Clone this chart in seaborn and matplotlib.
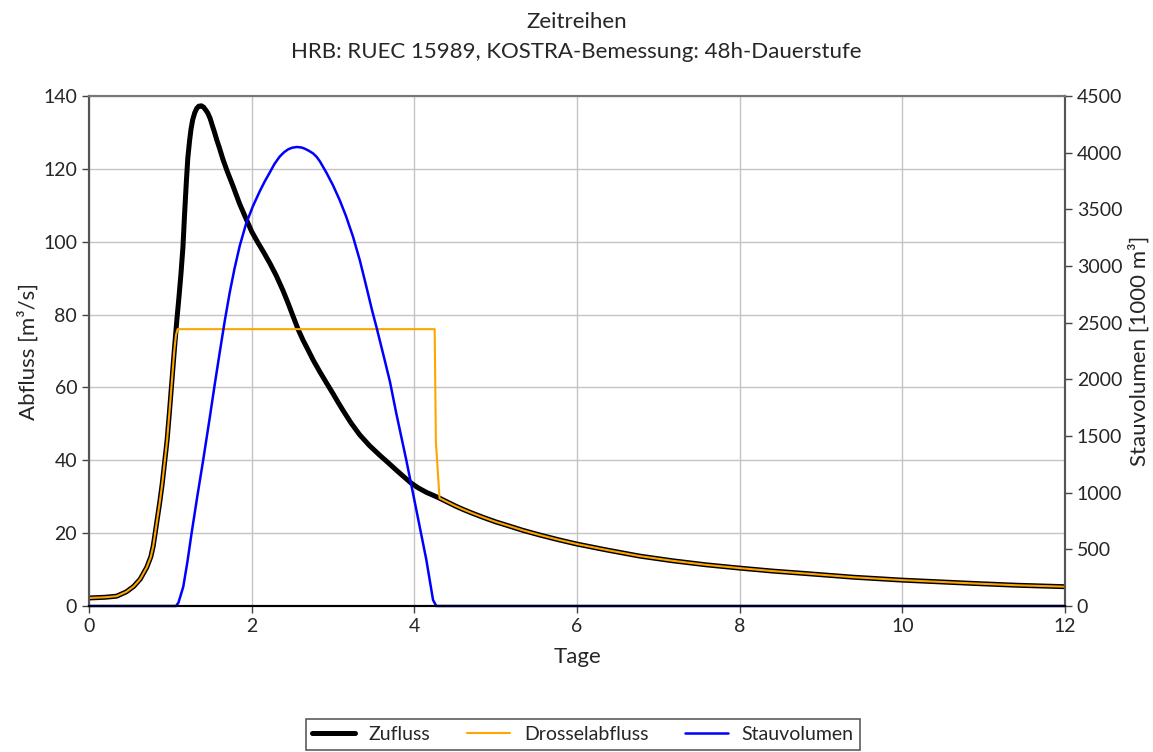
import numpy as np
import pandas as pd
import matplotlib
matplotlib.use("Agg")
import matplotlib.pyplot as plt
import seaborn as sns
from matplotlib.lines import Line2D

# ---------------- data ----------------
zufluss_t = [0.00, 0.20, 0.34, 0.46, 0.55, 0.63, 0.71, 0.76, 0.79, 0.83, 0.87, 0.90,
             0.93, 0.96, 0.99, 1.02, 1.05, 1.08, 1.105, 1.13, 1.155, 1.175, 1.197,
             1.215, 1.238, 1.255, 1.275, 1.30, 1.325, 1.35, 1.382, 1.41, 1.44,
             1.463, 1.49, 1.515, 1.545, 1.57, 1.60, 1.647, 1.70, 1.77,
             1.85, 1.935, 2.00, 2.078, 2.15, 2.221, 2.30, 2.385, 2.45, 2.508, 2.57,
             2.631, 2.70, 2.754, 2.83, 2.918, 3.00, 3.06, 3.123, 3.22, 3.328, 3.45,
             3.574, 3.68, 3.778, 3.87, 3.963, 4.05, 4.148, 4.23, 4.31, 4.40, 4.50,
             4.60, 4.721, 4.85, 5.00, 5.131, 5.33, 5.54, 5.77, 6.00, 6.36, 6.77,
             7.18, 7.59, 8.00, 8.40, 8.82, 9.40, 10.00, 10.87, 11.40, 12.00]
zufluss_q = [2.2, 2.4, 2.7, 3.9, 5.4, 7.4, 10.6, 13.5, 16.5, 22.5, 28.5, 33.5,
             39.5, 45.5, 53.5, 62.0, 70.5, 78.5, 84.5, 91.0, 98.5, 107.5, 116.5,
             123.0, 128.0, 131.0, 133.5, 135.4, 136.6, 137.2, 137.3, 136.9, 136.0,
             135.2, 133.8, 132.0, 129.9, 128.0, 126.0, 122.6, 119.3, 115.3,
             110.5, 106.1, 102.8, 99.7, 97.0, 94.2, 90.8, 86.6, 83.0, 79.6, 76.0,
             73.0, 70.0, 67.6, 64.6, 61.3, 58.3, 56.0, 53.7, 50.3, 47.0, 44.0,
             41.4, 39.3, 37.3, 35.5, 33.7, 32.4, 31.2, 30.4, 29.6, 28.6, 27.5,
             26.5, 25.4, 24.3, 23.1, 22.2, 20.8, 19.5, 18.2, 17.0, 15.4, 13.7,
             12.4, 11.3, 10.4, 9.6, 8.9, 7.9, 7.1, 6.2, 5.7, 5.3]

drossel_t = [0.00, 0.20, 0.34, 0.46, 0.55, 0.63, 0.71, 0.76, 0.79, 0.83, 0.87, 0.90,
             0.93, 0.96, 0.99, 1.02, 1.05, 1.07, 1.09, 4.25, 4.265, 4.31, 4.40,
             4.50, 4.60, 4.721, 4.85, 5.00, 5.131, 5.33, 5.54, 5.77, 6.00, 6.36,
             6.77, 7.18, 7.59, 8.00, 8.40, 8.82, 9.40, 10.00, 10.87, 11.40, 12.00]
drossel_q = [2.2, 2.4, 2.7, 3.9, 5.4, 7.4, 10.6, 13.5, 16.5, 22.5, 28.5, 33.5,
             39.5, 45.5, 53.5, 62.0, 70.5, 74.5, 76.0, 76.0, 45.0, 29.6, 28.6,
             27.5, 26.5, 25.4, 24.3, 23.1, 22.2, 20.8, 19.5, 18.2, 17.0, 15.4,
             13.7, 12.4, 11.3, 10.4, 9.6, 8.9, 7.9, 7.1, 6.2, 5.7, 5.3]

stau_t = [0.00, 1.07, 1.10, 1.159, 1.21, 1.261, 1.33, 1.404, 1.48, 1.548, 1.61,
          1.671, 1.73, 1.79, 1.853, 1.93, 2.016, 2.10, 2.16, 2.221, 2.28, 2.344,
          2.40, 2.45, 2.50, 2.557, 2.61, 2.65, 2.70, 2.754, 2.80, 2.84, 2.918,
          3.00, 3.082, 3.16, 3.246, 3.33, 3.41, 3.48, 3.533, 3.635, 3.70, 3.778,
          3.901, 4.025, 4.148, 4.23, 4.27, 12.00]
stau_v = [0, 0, 30, 170, 390, 641, 960, 1288, 1640, 1965, 2250,
          2524, 2765, 2980, 3177, 3370, 3529, 3660, 3745, 3823, 3900, 3965,
          4005, 4030, 4044, 4050, 4046, 4036, 4018, 3994, 3962, 3922, 3825,
          3712, 3582, 3440, 3259, 3050, 2818, 2610, 2465, 2171, 1980, 1700,
          1288, 847, 406, 53, 0, 0]

x_ticks = [0, 2, 4, 6, 8, 10, 12]
yl_ticks = [0, 20, 40, 60, 80, 100, 120, 140]
yr_ticks = [0, 500, 1000, 1500, 2000, 2500, 3000, 3500, 4000, 4500]

title_lines = ["Zeitreihen", "HRB: RUEC 15989, KOSTRA-Bemessung: 48h-Dauerstufe"]
labels = ["Zufluss", "Drosselabfluss", "Stauvolumen"]

# ---------------- style ----------------
sns.set_theme(style="white")
plt.rcParams["font.family"] = ["Lato", "DejaVu Sans"]
plt.rcParams["mathtext.default"] = "regular"
FS = 14
LFS = 16

df_z = pd.DataFrame({"t": zufluss_t, "q": zufluss_q})
df_d = pd.DataFrame({"t": drossel_t, "q": drossel_q})
df_s = pd.DataFrame({"t": stau_t, "v": stau_v})

fig = plt.figure(figsize=(11.53, 7.52), dpi=100)
ax = fig.add_axes([89 / 1153, 1 - 606 / 752, (1065 - 89) / 1153, (606 - 96) / 752])

sns.lineplot(data=df_z, x="t", y="q", ax=ax, color="black", linewidth=3.6,
             sort=False, solid_capstyle="round", solid_joinstyle="round")
sns.lineplot(data=df_d, x="t", y="q", ax=ax, color="#FFA500", linewidth=1.5,
             sort=False)

ax.set_xlim(0, 12)
ax.set_ylim(0, 140)
ax.set_xticks(x_ticks)
ax.set_yticks(yl_ticks)
ax.grid(True, color="#c4c4c4", linewidth=1.0)
ax.set_axisbelow(True)
ax.set_xlabel("Tage", fontsize=LFS, labelpad=9)
ax.set_ylabel("Abfluss [m³/s]", fontsize=LFS, labelpad=3)
ax.tick_params(axis="both", labelsize=FS, length=5, width=1, color="#444444",
               direction="out", left=True, bottom=True)

ax2 = ax.twinx()
sns.lineplot(data=df_s, x="t", y="v", ax=ax2, color="#0000FF", linewidth=1.8,
             sort=False, clip_on=False)
ax2.set_ylim(0, 4500)
ax2.set_yticks(yr_ticks)
ax2.grid(False)
ax2.set_ylabel("Stauvolumen [1000 m³]", fontsize=LFS, labelpad=4)
ax2.tick_params(axis="y", labelsize=FS, length=5, width=1, color="#444444",
                direction="out", right=True)

for a in (ax, ax2):
    for side in ("left", "right"):
        a.spines[side].set_color("#555555")
        a.spines[side].set_linewidth(1.5)
    a.spines["top"].set_color("#777777")
    a.spines["top"].set_linewidth(1.5)
    a.spines["bottom"].set_color("black")
    a.spines["bottom"].set_linewidth(1.5)

fig.text(0.5, 1 - 22 / 752, title_lines[0], ha="center", va="center", fontsize=16)
fig.text(0.5, 1 - 52 / 752, title_lines[1], ha="center", va="center", fontsize=16)

handles = [Line2D([], [], color="black", linewidth=3.6),
           Line2D([], [], color="#FFA500", linewidth=1.5),
           Line2D([], [], color="#0000FF", linewidth=1.8)]
leg = fig.legend(handles, labels, loc="upper center", ncol=3,
                 bbox_to_anchor=(583 / 1153, 1 - 719 / 752), fontsize=FS,
                 frameon=True, fancybox=False, edgecolor="#333333",
                 handlelength=2.2, handletextpad=0.7, columnspacing=1.9,
                 borderpad=0.35, borderaxespad=0.0)
leg.get_frame().set_linewidth(1.2)

fig.savefig("out.png", dpi=100)
